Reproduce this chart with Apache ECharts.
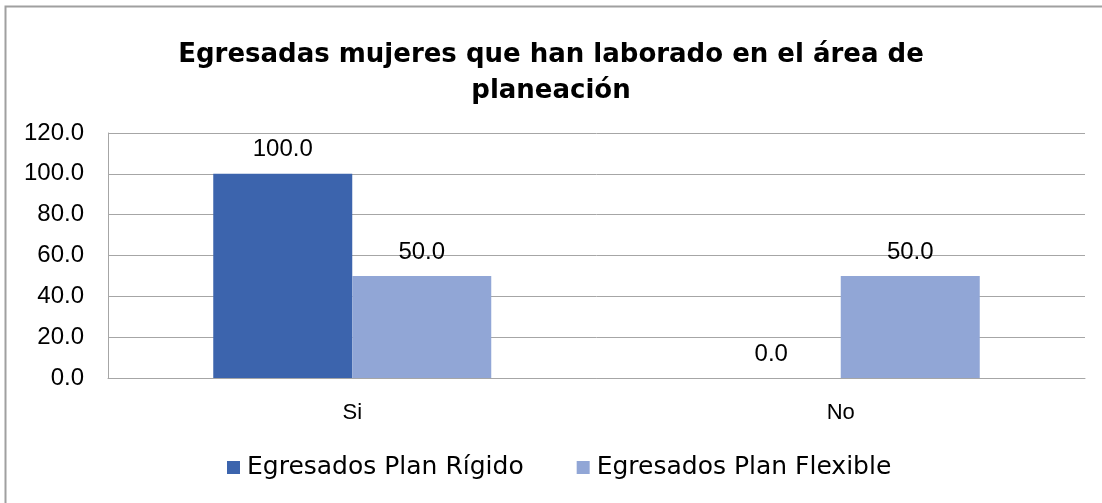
<!DOCTYPE html>
<html>
<head>
<meta charset="utf-8">
<script src="https://cdn.jsdelivr.net/npm/echarts@6/dist/echarts.min.js"></script>
<style>
  html, body { margin: 0; padding: 0; background: #fff; }
  #chart { width: 1102px; height: 503px; }
</style>
</head>
<body>
<div id="chart"></div>
<script>
const categories = ['Si', 'No'];
const rigido = [100.0, 0.0];
const flexible = [50.0, 50.0];
const seriesNames = ['Egresados Plan Rígido', 'Egresados Plan Flexible'];
const yTicks = { min: 0, max: 120, interval: 20 };

const chart = echarts.init(document.getElementById('chart'));

const labelStyle = {
    show: true,
    position: 'top',
    distance: 12,
    color: '#000',
    fontFamily: 'Liberation Sans',
    fontSize: 24,
    formatter: p => p.value.toFixed(1)
};

chart.setOption({
    animation: false,
    title: {
        text: 'Egresadas mujeres que han laborado en el área de\nplaneación',
        left: 'center',
        top: 32,
        textStyle: {
            fontFamily: 'DejaVu Sans',
            fontWeight: 'bold',
            fontSize: 26,
            lineHeight: 36,
            color: '#000'
        }
    },
    graphic: [{
        type: 'rect',
        shape: { x: 5.5, y: 6.5, width: 1200, height: 600 },
        style: { fill: 'none', stroke: '#a0a0a0', lineWidth: 2 },
        silent: true
    }],
    legend: {
        data: seriesNames,
        bottom: 18,
        left: 222,
        itemWidth: 13,
        itemHeight: 13,
        itemGap: 53,
        icon: 'rect',
        textStyle: { fontFamily: 'DejaVu Sans', fontSize: 25, color: '#000', padding: [0, 0, 0, 2] }
    },
    grid: { left: 108, right: 17, top: 133, bottom: 125 },
    xAxis: {
        type: 'category',
        data: categories,
        axisLine: { show: true, lineStyle: { color: '#a6a6a6' } },
        axisTick: { show: false },
        axisLabel: { color: '#000', fontFamily: 'Liberation Sans', fontSize: 22, margin: 24 }
    },
    yAxis: {
        type: 'value',
        min: yTicks.min,
        max: yTicks.max,
        interval: yTicks.interval,
        axisLine: { show: true, lineStyle: { color: '#a6a6a6' } },
        axisTick: { show: false },
        splitLine: { lineStyle: { color: '#a6a6a6', width: 1 } },
        axisLabel: {
            color: '#000', fontFamily: 'Liberation Sans', fontSize: 24, margin: 24,
            formatter: v => v.toFixed(1)
        }
    },
    series: [{
        name: seriesNames[0],
        type: 'bar',
        data: rigido,
        barWidth: 139,
        barGap: '0%',
        itemStyle: { color: '#3c64ad' },
        label: labelStyle
    }, {
        name: seriesNames[1],
        type: 'bar',
        data: flexible,
        barWidth: 139,
        barGap: '0%',
        itemStyle: { color: '#91a6d6' },
        label: labelStyle
    }]
});
</script>
</body>
</html>
